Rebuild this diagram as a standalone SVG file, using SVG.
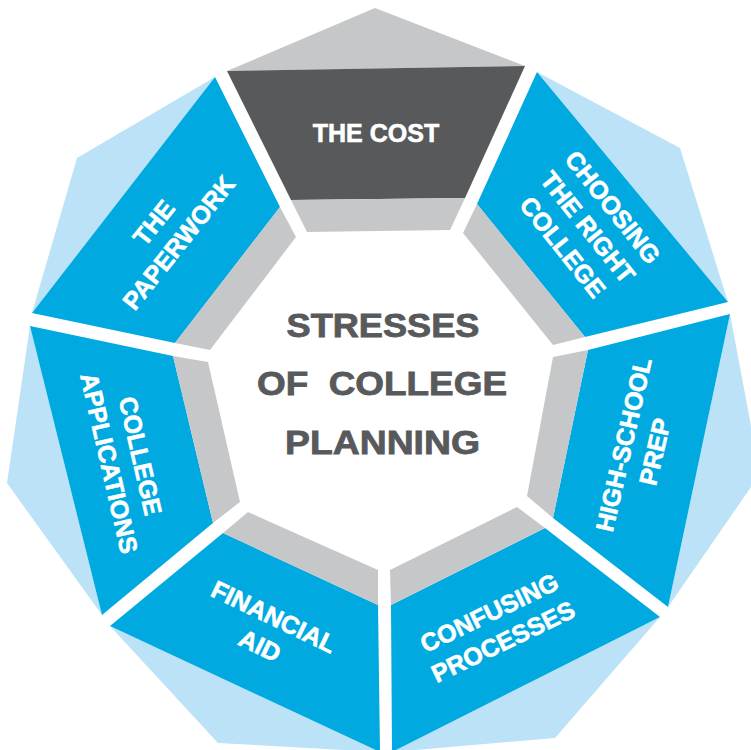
<svg xmlns="http://www.w3.org/2000/svg" width="751" height="750" viewBox="0 0 751 750">
<style>
.blue{fill:#00a9e0}
.lblue{fill:#bbe2f6}
.gray{fill:#c6c7c9}
.dark{fill:#58595b}
.label{font-family:"Liberation Sans",Arial,sans-serif;font-weight:bold;font-size:25px;fill:#ffffff;stroke:#ffffff;stroke-width:0.6px;text-anchor:middle}
.title{font-family:"Liberation Sans",Arial,sans-serif;font-weight:bold;font-size:32.5px;fill:#58595b;stroke:#58595b;stroke-width:0.8px;text-anchor:middle}
</style>
<rect width="751" height="750" fill="#ffffff"/>
<g id="node-the-cost">
<polygon class="gray" points="227,71 375,8 525,66"/>
<polygon class="dark" points="227,71 525,66 465,198 291,200"/>
<polygon class="gray" points="291,200 465,198 450,230 307,232"/>
<text class="label" x="376" y="141.5">THE COST</text>
</g>
<g id="node-choosing">
<polygon class="lblue" points="537,72 680,148 728,302"/>
<polygon class="blue" points="537,72 728,302 585,337 477,204"/>
<polygon class="gray" points="477,204 585,337 553,345 463,233"/>
<g transform="translate(588,227) rotate(51.43)">
<text class="label" x="0" y="-23">CHOOSING</text>
<text class="label" x="0" y="9">THE RIGHT</text>
<text class="label" x="0" y="41">COLLEGE</text>
</g>
</g>
<g id="node-high-school-prep">
<polygon class="lblue" points="730,314 760,474 668,607"/>
<polygon class="blue" points="730,314 668,607 553,518 588,350"/>
<polygon class="gray" points="588,350 553,518 527,496 553,357"/>
<g transform="translate(639,448) rotate(-77.14)">
<text class="label" x="0" y="-7">HIGH-SCHOOL</text>
<text class="label" x="0" y="25">PREP</text>
</g>
</g>
<g id="node-confusing-processes">
<polygon class="lblue" points="660,617 555,738 392,752"/>
<polygon class="blue" points="660,617 392,752 391,605 545,528"/>
<polygon class="gray" points="545,528 391,605 390,570 517,507"/>
<g transform="translate(496,627) rotate(-25.71)">
<text class="label" x="0" y="-7">CONFUSING</text>
<text class="label" x="0" y="25">PROCESSES</text>
</g>
</g>
<g id="node-financial-aid">
<polygon class="lblue" points="110,626 218,743 380,752"/>
<polygon class="blue" points="110,626 380,752 378,605 223,533"/>
<polygon class="gray" points="223,533 378,605 378,570 248,512"/>
<g transform="translate(267,631) rotate(25.71)">
<text class="label" x="0" y="-7">FINANCIAL</text>
<text class="label" x="0" y="25">AID</text>
</g>
</g>
<g id="node-college-applications">
<polygon class="lblue" points="30,326 7,483 102,615"/>
<polygon class="blue" points="30,326 102,615 213,523 173,356"/>
<polygon class="gray" points="173,356 213,523 240,502 208,362"/>
<g transform="translate(125,459.5) rotate(77.14)">
<text class="label" x="0" y="-7">COLLEGE</text>
<text class="label" x="0" y="25">APPLICATIONS</text>
</g>
</g>
<g id="node-the-paperwork">
<polygon class="lblue" points="215,77 77,158 32,313"/>
<polygon class="blue" points="215,77 32,313 175,343 280,207"/>
<polygon class="gray" points="280,207 175,343 210,350 296,237"/>
<g transform="translate(166,232.5) rotate(-51.43)">
<text class="label" x="0" y="-7">THE</text>
<text class="label" x="0" y="25">PAPERWORK</text>
</g>
</g>
<g id="node-center">
<text class="title" x="383" y="337" textLength="193" lengthAdjust="spacingAndGlyphs">STRESSES</text>
<text class="title" x="382" y="395" textLength="250" lengthAdjust="spacingAndGlyphs" xml:space="preserve">OF  COLLEGE</text>
<text class="title" x="382.5" y="453.5" textLength="195" lengthAdjust="spacingAndGlyphs">PLANNING</text>
</g>
</svg>
